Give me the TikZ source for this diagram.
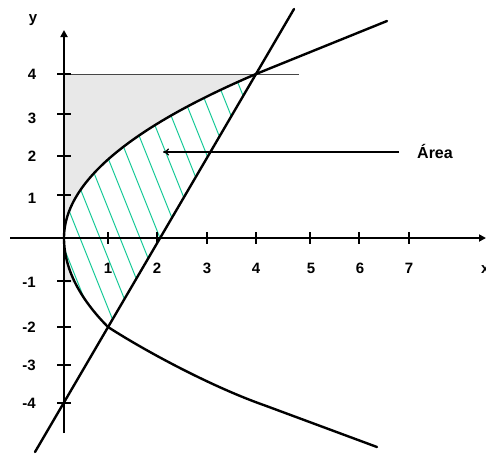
\documentclass[tikz,border=0pt]{standalone}
\usepackage{fontspec}
\setmainfont{Liberation Sans}
\usetikzlibrary{arrows.meta}
\definecolor{hatchcol}{RGB}{20,200,150}
\definecolor{shadecol}{RGB}{232,232,232}
\definecolor{guidecol}{RGB}{70,70,70}
\begin{document}
\begin{tikzpicture}[x=1pt,y=-1pt,
  axis/.style={line width=2.6pt,-{Triangle[length=7pt,width=7pt]}},
  curve/.style={line width=2.4pt,line join=round,line cap=round},
  tickmark/.style={line width=1.5pt},
  lbl/.style={font=\fontsize{15}{17}\selectfont\bfseries,inner sep=0pt},
  hatchline/.style={draw=hatchcol,line width=1pt},
  guide/.style={draw=guidecol,line width=1pt},
  pointer/.style={line width=1.2pt,-{To[length=6pt,width=7pt]}}]
\useasboundingbox (0,0) rectangle (486,453);

% grey region left of the parabola, below y = 4
\fill[shadecol] (64,74) -- (256,74)
  -- plot[domain=4:0,samples=60,variable=\t] ({64+12*\t*\t},{238-41*\t})
  -- plot[domain=0:1,samples=20,variable=\s] ({64+11*\s*\s},{238+44.5*\s})
  -- (64,282.5) -- cycle;

% hatched area between parabola and line
\begin{scope}
  \clip plot[domain=0:4,samples=60,variable=\t] ({64+12*\t*\t},{238-41*\t})
    -- (108,327)
    -- plot[domain=2:0,samples=30,variable=\s] ({64+11*\s*\s},{238+44.5*\s})
    -- cycle;
  \foreach \k in {-2,...,12}
    \draw[hatchline] ({80+20*\k-87.2},20) -- ({80+20*\k+40.8},340);
\end{scope}

% guide line y = 4
\coordinate (g4) at (64,74);
\coordinate (g4end) at (299,74);
\draw[guide] (g4) -- (g4end);

% axes
\coordinate (xstart) at (10,238);
\coordinate (xend) at (486,238);
\coordinate (ystart) at (64,433);
\coordinate (yend) at (64,30);
\draw[axis] (xstart) -- (xend);
\draw[axis] (ystart) -- (yend);

% ticks
\foreach \px in {108,157,207,256,310,359,409}
  \draw[tickmark] (\px,232) -- (\px,244);
\foreach \py in {74,114,156,195,281,327,365,403}
  \draw[tickmark] (57,\py) -- (71,\py);

% parabola y^2 = 4x
\draw[curve] plot[domain=0:4,samples=60,variable=\t] ({64+12*\t*\t},{238-41*\t}) -- (387,21);
\draw[curve] plot[domain=0:2,samples=30,variable=\s] ({64+11*\s*\s},{238+44.5*\s})
  .. controls (150,354) and (215,388) .. (265,405.5) -- (377,447);

% line y = 2x - 4
\coordinate (lbot) at (35,452);
\coordinate (ltop) at (294,9);
\draw[curve] (lbot) -- (ltop);

% labels
\node[lbl] (ylab) at (33,20) {y};
\node[lbl,anchor=west] (xlab) at (481,270) {x};
\node[lbl] (y4) at (32,74) {4};
\node[lbl] (y3) at (32,118) {3};
\node[lbl] (y2) at (32,156) {2};
\node[lbl] (y1) at (32,198) {1};
\node[lbl] (ym1) at (29,282) {-1};
\node[lbl] (ym2) at (29,327) {-2};
\node[lbl] (ym3) at (29,365) {-3};
\node[lbl] (ym4) at (29,403) {-4};
\node[lbl] (x1) at (108,268) {1};
\node[lbl] (x2) at (157,268) {2};
\node[lbl] (x3) at (207,268) {3};
\node[lbl] (x4) at (256,268) {4};
\node[lbl] (x5) at (311,268) {5};
\node[lbl] (x6) at (360,268) {6};
\node[lbl] (x7) at (409,268) {7};

% area label and pointer
\node[lbl,font=\fontsize{16}{18}\selectfont\bfseries] (area) at (435,151) {Área};
\coordinate (areatip) at (163,152);
\draw[pointer,shorten <=18pt] (area.west |- areatip) -- (areatip);
\end{tikzpicture}
\end{document}
